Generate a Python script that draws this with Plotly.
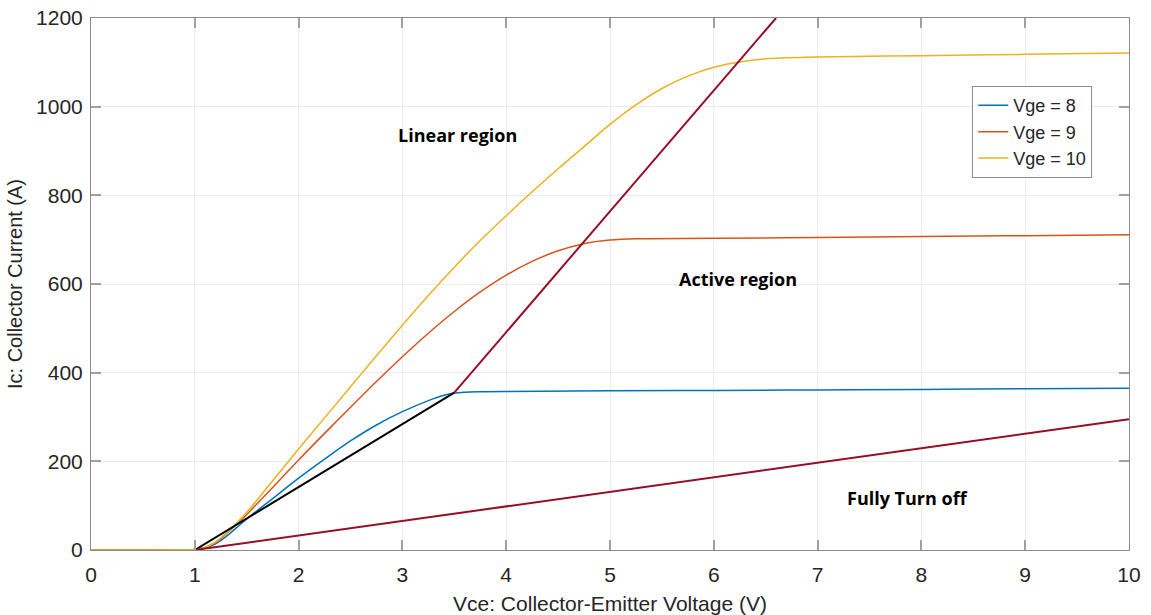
import plotly.graph_objects as go

# Output characteristics of the IGBT, Ic vs Vce for three gate voltages
vce_8 = [0, 0.5, 0.9, 1.0, 1.1, 1.2, 1.3, 1.4, 1.5, 1.75, 2.0, 2.25, 2.5, 2.75,
         3.0, 3.25, 3.4, 3.5, 3.6, 3.75, 4.0, 5.0, 6.0, 7.0, 8.0, 9.0, 10.0]
ic_8 = [0, 0, 0.3, 1, 5, 14, 30, 50, 70, 116, 162, 205, 246, 282,
        312, 337, 349, 354, 356, 357, 357.5, 359, 360, 361, 362, 364, 365]

vce_9 = [0, 0.5, 0.9, 1.0, 1.1, 1.2, 1.3, 1.4, 1.5, 1.75, 2.0, 2.25, 2.5, 2.75,
         3.0, 3.25, 3.5, 3.75, 4.0, 4.25, 4.5, 4.75, 5.0, 5.25, 6.0, 7.0, 8.0, 9.0, 10.0]
ic_9 = [0, 0, 0.3, 1, 6, 17, 36, 57, 80, 141, 203, 263, 322, 380,
        436, 489, 538, 582, 620, 651, 675, 691, 699, 702, 703, 705, 707, 709, 711]

vce_10 = [0, 0.5, 0.9, 1.0, 1.1, 1.2, 1.3, 1.4, 1.5, 1.75, 2.0, 2.25, 2.5, 2.75,
          3.0, 3.25, 3.5, 3.75, 4.0, 4.25, 4.5, 4.75, 5.0, 5.25, 5.5, 5.75, 6.0, 6.25,
          6.5, 7.0, 8.0, 9.0, 10.0]
ic_10 = [0, 0, 0.3, 1, 6, 18, 38, 60, 85, 156, 228, 298, 368, 438,
         507, 574, 638, 698, 754, 808, 860, 910, 960, 1004, 1041, 1069, 1089, 1101,
         1108, 1112, 1115, 1118, 1121]

# Region boundary lines
sat_x = [1.0, 3.5]
sat_y = [0, 355]
bound_x = [3.5, 6.6]
bound_y = [355, 1200]
off_x = [1.0, 10.0]
off_y = [0, 295]

# Region annotations (x, y, text)
labels_x = [3.53, 6.23, 7.87]
labels_y = [935, 611, 118]
labels_txt = ["Linear region", "Active region", "Fully Turn off"]

BLUE = "#0072BD"
ORANGE = "#D95319"
YELLOW = "#EDB120"
MAROON = "#960E27"
TXT = "Liberation Sans, Arial"

fig = go.Figure()
for xs, ys, name, col in [(vce_8, ic_8, "Vge = 8", BLUE),
                          (vce_9, ic_9, "Vge = 9", ORANGE),
                          (vce_10, ic_10, "Vge = 10", YELLOW)]:
    fig.add_trace(go.Scatter(x=xs, y=ys, mode="lines", name=name,
                             line=dict(color=col, width=1.5, shape="spline", smoothing=1)))

fig.add_trace(go.Scatter(x=sat_x, y=sat_y, mode="lines", showlegend=False,
                         line=dict(color="black", width=2)))
fig.add_trace(go.Scatter(x=bound_x, y=bound_y, mode="lines", showlegend=False,
                         line=dict(color=MAROON, width=2)))
fig.add_trace(go.Scatter(x=off_x, y=off_y, mode="lines", showlegend=False,
                         line=dict(color=MAROON, width=2)))

for lx, ly, t in zip(labels_x, labels_y, labels_txt):
    fig.add_annotation(x=lx, y=ly, text=f"<b>{t}</b>", showarrow=False,
                       font=dict(family="Open Sans", size=18, color="black"))

axis_common = dict(
    showline=True, linecolor="#8c8c8c", linewidth=1, mirror="ticks",
    ticks="inside", ticklen=10, tickcolor="#a0a0a0", tickwidth=1.5,
    showgrid=True, gridcolor="#ececec", gridwidth=1, zeroline=False,
    tickfont=dict(family=TXT, size=21, color="#262626"),
    automargin=False,
)

fig.update_xaxes(range=[0, 10], dtick=1, tick0=0, ticklabelstandoff=6,
                 title=dict(text="Vce: Collector-Emitter Voltage (V)", standoff=11,
                            font=dict(family=TXT, size=21, color="#262626")),
                 **axis_common)
fig.update_yaxes(range=[0, 1200], dtick=200, tick0=0, ticklabelstandoff=3,
                 title=dict(text="Ic: Collector Current (A)", standoff=8,
                            font=dict(family=TXT, size=20, color="#262626")),
                 **axis_common)

fig.update_layout(
    width=1151, height=615,
    margin=dict(l=91, r=22, t=18, b=65),
    plot_bgcolor="white", paper_bgcolor="white",
    legend=dict(x=0.849, y=0.872, xanchor="left", yanchor="top",
                bgcolor="white", bordercolor="#8c8c8c", borderwidth=1,
                font=dict(family=TXT, size=18, color="#262626"),
                tracegroupgap=0, itemwidth=30),
)

fig.write_html("out.html")
